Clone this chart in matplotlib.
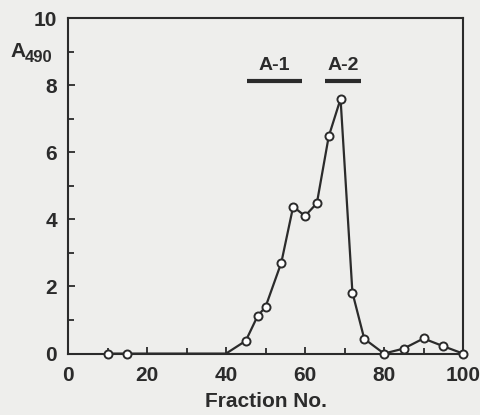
import numpy as np
import matplotlib.pyplot as plt
from matplotlib.ticker import MultipleLocator

# elution profile
fraction = [10, 15, 40, 45, 48, 50, 54, 57, 60, 63, 66, 69, 72, 75, 80, 85, 90, 95, 100]
a490 = [0.0, 0.0, 0.0, 0.38, 1.12, 1.39, 2.71, 4.38, 4.10, 4.48, 6.47, 7.59, 1.82, 0.44, 0.0, 0.15, 0.45, 0.22, 0.0]
pool_names = ['A-1', 'A-2']
pool_start = [45.2, 65.1]
pool_end = [59.2, 74.1]
pool_level = 8.13

bg = '#eeeeec'
ink = '#2b2b2b'
plt.rcParams['font.family'] = ['Liberation Sans', 'DejaVu Sans']
plt.rcParams['font.weight'] = 'bold'

fig = plt.figure(figsize=(4.81, 4.15), dpi=100, facecolor=bg)
ax = fig.add_axes([0.1414, 0.148, 0.8212, 0.8086])
ax.set_facecolor(bg)

# line drawn through everything, markers skip the start of the rise at 40
marks = [i for i in range(len(fraction)) if fraction[i] != 40]
ax.plot(fraction, a490, color=ink, lw=1.6, marker='o', ms=5.8, mfc='white',
        mec=ink, mew=1.4, markevery=marks, clip_on=False, zorder=3)

for name, s, e in zip(pool_names, pool_start, pool_end):
    ax.plot([s, e], [pool_level, pool_level], color=ink, lw=3, solid_capstyle='butt')
    ax.text((s + e) / 2, pool_level + 0.2, name, ha='center', va='bottom',
            fontsize=14, fontweight='bold', color=ink)

ax.set_xlim(0, 100)
ax.set_ylim(0, 10)
ax.xaxis.set_major_locator(MultipleLocator(20))
ax.xaxis.set_minor_locator(MultipleLocator(10))
ax.yaxis.set_major_locator(MultipleLocator(2))
ax.yaxis.set_minor_locator(MultipleLocator(1))
ax.tick_params(which='both', direction='in', colors=ink, width=1.3,
               labelsize=15, top=False, right=False)
ax.tick_params(which='major', length=5)
ax.tick_params(which='minor', length=4)
ax.tick_params(axis='x', pad=9)
ax.tick_params(axis='y', pad=8)
for sp in ax.spines.values():
    sp.set_color(ink)
    sp.set_linewidth(1.5)

ax.set_xlabel('Fraction No.', fontsize=15, fontweight='bold', color=ink, labelpad=5)
fig.text(10 / 481, 1 - 57 / 415, 'A', fontsize=15, fontweight='bold', color=ink,
         ha='left', va='baseline')
fig.text(25 / 481, 1 - 62 / 415, '490', fontsize=12, fontweight='bold', color=ink,
         ha='left', va='baseline')

fig.savefig('out.png', dpi=100, facecolor=bg)
